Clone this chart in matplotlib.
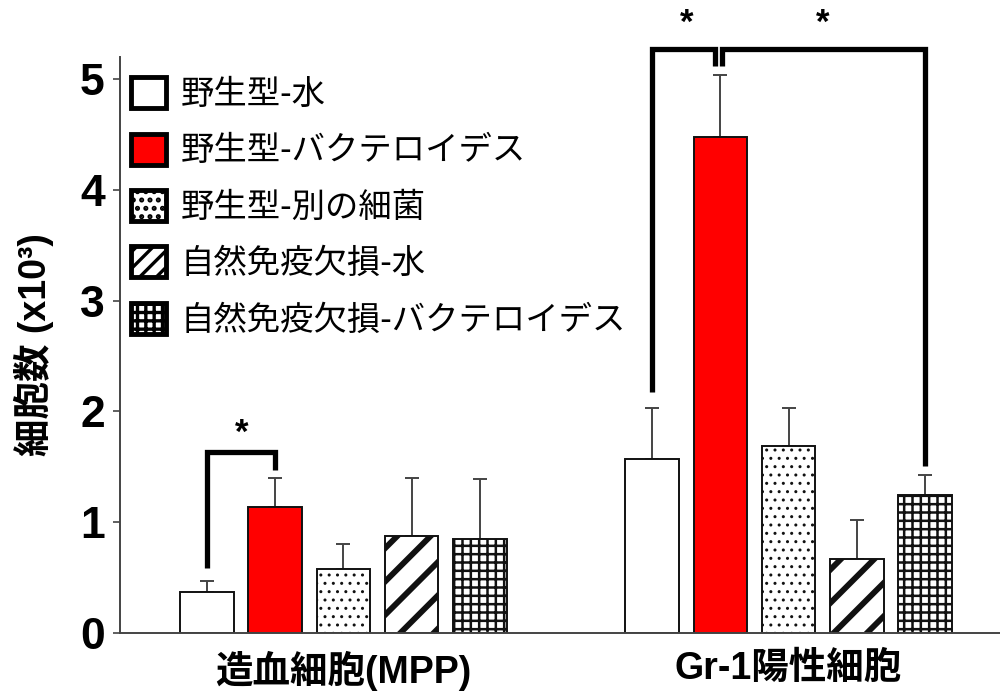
import numpy as np
import matplotlib
matplotlib.use("Agg")
import matplotlib.pyplot as plt
from matplotlib.patches import Patch

# data
groups = ['造血細胞(MPP)', 'Gr-1陽性細胞']
series = ['野生型-水', '野生型-バクテロイデス', '野生型-別の細菌',
          '自然免疫欠損-水', '自然免疫欠損-バクテロイデス']
mpp_means = [0.37, 1.14, 0.58, 0.88, 0.85]
mpp_errs = [0.10, 0.26, 0.22, 0.52, 0.54]
gr1_means = [1.57, 4.48, 1.69, 0.67, 1.25]
gr1_errs = [0.46, 0.56, 0.34, 0.35, 0.18]
yticks = [0, 1, 2, 3, 4, 5]

# styles per series
faces = ['white', '#ff0000', 'white', 'white', 'white']
hatches = [None, None, '..', '/', '++']
hatch_lw = [1.0, 1.0, 1.0, 4.2, 1.8]
leg_hatches = [None, None, '..', '//', '++']
leg_hatch_lw = [1.0, 1.0, 0.8, 2.6, 2.0]

plt.rcParams['font.family'] = ['Noto Sans CJK JP', 'DejaVu Sans']
mixed = ['Liberation Sans', 'Noto Sans CJK JP']

fig = plt.figure(figsize=(10, 6.92), dpi=100)
ax = fig.add_axes([0.12, 59 / 692, 0.88, 576 / 692])

step = 0.153
width = 0.121
x = np.arange(len(groups))
means = np.array([mpp_means, gr1_means])
errs = np.array([mpp_errs, gr1_errs])

centers = {}
for i in range(len(series)):
    xs = x + (i - 2) * step
    centers[i] = xs
    with plt.rc_context({'hatch.linewidth': hatch_lw[i], 'hatch.color': 'black'}):
        ax.bar(xs, means[:, i], width, color=faces[i], edgecolor='#111111',
               linewidth=1.4, hatch=hatches[i], zorder=2)
    ax.errorbar(xs, means[:, i], yerr=[np.zeros(2), errs[:, i]], fmt='none',
                ecolor='#444444', elinewidth=1.4, capsize=5, capthick=1.4, zorder=1)

# significance brackets
blw = 3.8
def bracket(x0, y0, x1, y1, ytop):
    ax.plot([x0, x0, x1, x1], [y0, ytop, ytop, y1], color='black', lw=blw,
            solid_joinstyle='miter', solid_capstyle='butt', clip_on=False, zorder=3)

bracket(centers[0][0], 0.59, centers[1][0], 1.47, 1.635)
ax.text((centers[0][0] + centers[1][0]) / 2, 1.80, '*', ha='center', va='center',
        fontsize=25, fontweight='bold', family='Liberation Sans')
bracket(centers[0][1], 2.18, centers[1][1] - 0.013, 5.12, 5.27)
bracket(centers[1][1] + 0.004, 5.12, centers[4][1], 1.51, 5.27)
ax.text((centers[0][1] + centers[1][1]) / 2, 5.50, '*', ha='center', va='center',
        fontsize=25, fontweight='bold', family='Liberation Sans')
ax.text((centers[1][1] + centers[4][1]) / 2, 5.50, '*', ha='center', va='center',
        fontsize=25, fontweight='bold', family='Liberation Sans')

ax.set_xlim(-0.502, 1.475)
ax.set_ylim(0, 5.2)
ax.set_yticks(yticks)
ax.set_yticklabels([str(v) for v in yticks], fontsize=32, fontweight='bold',
                   family='Liberation Sans')
ax.set_xticks(x)
ax.set_xticklabels(groups, fontsize=27, fontweight='bold', family=mixed)
ax.tick_params(axis='x', length=0, pad=13)
ax.tick_params(axis='y', length=5, width=1.2, color='#444444', pad=6)
for s in ['top', 'right']:
    ax.spines[s].set_visible(False)
for s in ['left', 'bottom']:
    ax.spines[s].set_color('#444444')
    ax.spines[s].set_linewidth(1.4)

ax.set_ylabel('細胞数 (x10³)', fontsize=27, fontweight='bold', family=mixed, labelpad=19)

handles = []
for i in range(len(series)):
    with plt.rc_context({'hatch.linewidth': leg_hatch_lw[i]}):
        handles.append(Patch(facecolor=faces[i], edgecolor='black', linewidth=3.5,
                             hatch=leg_hatches[i], label=series[i]))
with plt.rc_context({'hatch.linewidth': 2.4}):
    leg = ax.legend(handles=handles, loc='upper left', bbox_to_anchor=(0.012, 0.965),
                    frameon=False, fontsize=24, handlelength=1.05, handleheight=1.05,
                    handletextpad=0.45, labelspacing=0.64, borderpad=0, borderaxespad=0)

fig.savefig('out.png', dpi=100)
